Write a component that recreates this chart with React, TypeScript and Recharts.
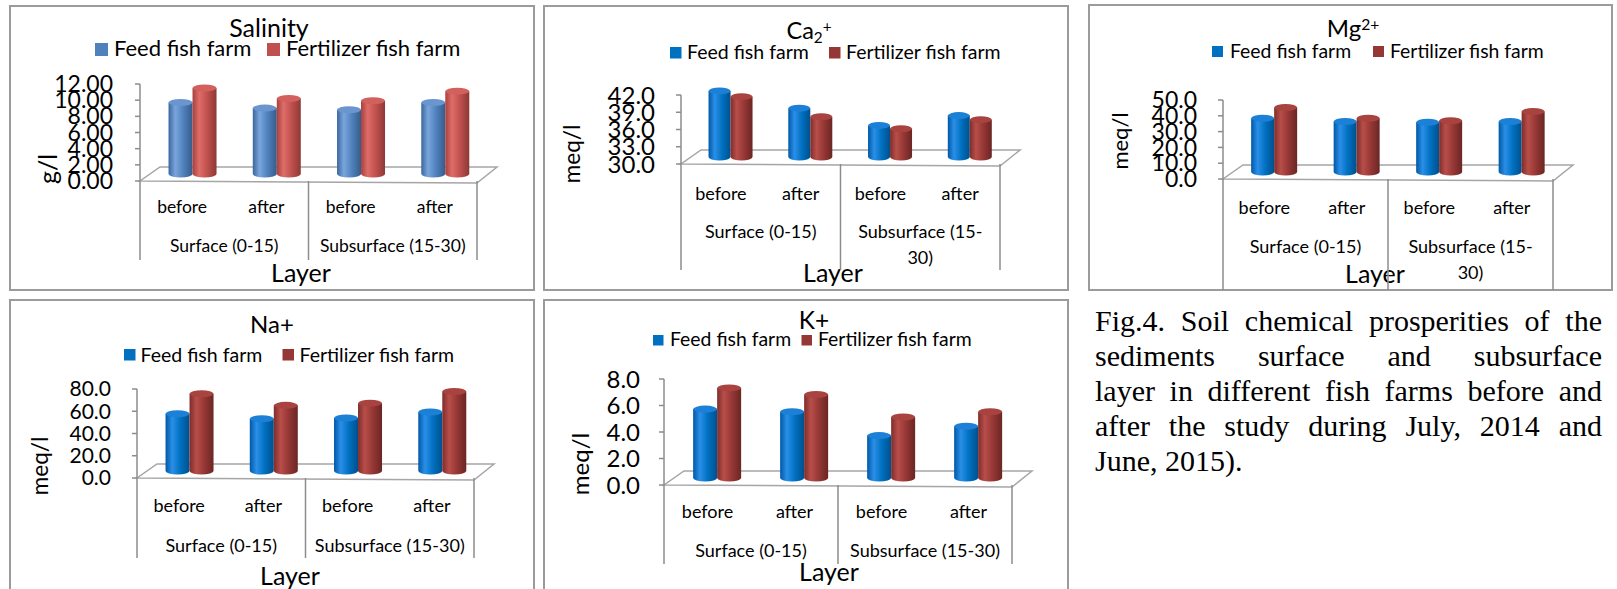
import React from 'react';
import { BarChart, Bar, XAxis, YAxis, Legend } from 'recharts';

// categories
const layers = ['before', 'after', 'before', 'after'];
const groups = ['Surface (0-15)', 'Subsurface (15-30)'];
const seriesNames = ['Feed fish farm', 'Fertilizer fish farm'];

// values
const salinityFeed = [8.85, 8.15, 7.95, 8.85];
const salinityFert = [10.65, 9.35, 9.05, 10.25];
const caFeed = [41.5, 38.5, 35.5, 37.2];
const caFert = [40.5, 37.0, 34.9, 36.5];
const mgFeed = [34.0, 32.0, 31.5, 32.0];
const mgFert = [40.8, 34.0, 32.4, 38.3];
const naFeed = [51.5, 47.0, 47.6, 53.0];
const naFert = [69.5, 59.0, 61.0, 71.5];
const kFeed = [5.2, 5.0, 3.2, 3.9];
const kFert = [6.8, 6.3, 4.6, 5.0];

// y ticks
const salinityTicks = [0, 2, 4, 6, 8, 10, 12];
const caTicks = [30, 33, 36, 39, 42];
const mgTicks = [0, 10, 20, 30, 40, 50];
const naTicks = [0, 20, 40, 60, 80];
const kTicks = [0, 2, 4, 6, 8];

const captionLines = [
  'Fig.4. Soil chemical prosperities of the',
  'sediments surface and subsurface',
  'layer in different fish farms before and',
  'after the study during July, 2014 and',
  'June, 2015).',
];

const FONT = 'Lato, "Open Sans", sans-serif';
const AXIS = '#8c8c8c';
const DX = 10; // bars sit half way into the 3d floor
const DY = 7;
const RY = 3.5;

const palettes: any = {
  office: {
    feed: { stops: ['#3A669E', '#7AA5DC', '#4F81BD', '#375B88'], top: '#6A95CF', legend: '#4F81BD' },
    fert: { stops: ['#A8403D', '#DE6D69', '#C0504D', '#8C3936'], top: '#D2605C', legend: '#C0504D' },
  },
  vivid: {
    feed: { stops: ['#0058A6', '#2A8FE8', '#0070C0', '#00508C'], top: '#1C80D6', legend: '#0070C0' },
    fert: { stops: ['#7E2D2B', '#B84E4A', '#953735', '#6A2624'], top: '#A8433F', legend: '#953735' },
  },
};

const toRows = (feed: number[], fert: number[]) =>
  layers.map((layer, i) => ({ layer, feed: feed[i], fert: fert[i] }));

const panels: any[] = [
  {
    key: 'sal', box: [10, 6, 524, 284], left: 140, right: 477, top: 84, bottom: 181,
    domain: [0, 12], ticks: salinityTicks, dec: 2, feed: salinityFeed, fert: salinityFert, pal: 'office',
    title: [{ t: 'Salinity' }], titleX: 269, titleY: 37, titleFs: 25,
    lg: { sq: [95, 267], tx: [114, 286], sqY: 43, size: 13, base: 56, fs: 22 },
    tickFs: 23, tickMargin: 22, ylabel: 'g/l', ylx: 47, yly: 169, ylFs: 25,
    catDy: 32, grpDy: 71, divLen: 79, catFs: 17.5, grpFs: 17.5, wrap: false,
    layerX: 301, layerY: 282, layerFs: 25,
  },
  {
    key: 'ca', box: [544, 6, 524, 284], left: 681, right: 1000, top: 95, bottom: 164,
    domain: [30, 42], ticks: caTicks, dec: 1, feed: caFeed, fert: caFert, pal: 'vivid',
    title: [{ t: 'Ca' }, { t: '2', sub: true }, { t: '+', sup: true }], titleX: 809, titleY: 39, titleFs: 23.5,
    lg: { sq: [670, 829], tx: [687, 846], sqY: 47, size: 11.5, base: 59, fs: 19.5 },
    tickFs: 24, tickMargin: 21, ylabel: 'meq/l', ylx: 571, yly: 154, ylFs: 22.5,
    catDy: 35.5, grpDy: 74, divLen: 106, catFs: 18, grpFs: 18, wrap: true,
    layerX: 833, layerY: 282, layerFs: 25,
  },
  {
    key: 'mg', box: [1089, 5, 523, 285], left: 1223, right: 1553, top: 100, bottom: 179,
    domain: [0, 50], ticks: mgTicks, dec: 1, feed: mgFeed, fert: mgFert, pal: 'vivid',
    title: [{ t: 'Mg' }, { t: '2+', sup: true }], titleX: 1353, titleY: 37, titleFs: 24,
    lg: { sq: [1212, 1373], tx: [1230, 1390], sqY: 46, size: 11, base: 57.5, fs: 19.4 },
    tickFs: 23, tickMargin: 21, ylabel: 'meq/l', ylx: 1119, yly: 141, ylFs: 22,
    catDy: 34.5, grpDy: 73.5, divLen: 111, catFs: 18, grpFs: 18, wrap: true,
    layerX: 1375, layerY: 283, layerFs: 25,
  },
  {
    key: 'na', box: [10, 300, 524, 300], left: 137, right: 474, top: 389, bottom: 478,
    domain: [0, 80], ticks: naTicks, dec: 1, feed: naFeed, fert: naFert, pal: 'vivid',
    title: [{ t: 'Na+' }], titleX: 272, titleY: 333, titleFs: 24,
    lg: { sq: [124, 282.5], tx: [140.5, 299.5], sqY: 349, size: 11.5, base: 361.5, fs: 19.5 },
    tickFs: 21, tickMargin: 21, ylabel: 'meq/l', ylx: 39, yly: 466, ylFs: 22.5,
    catDy: 34, grpDy: 73.6, divLen: 80, catFs: 18, grpFs: 18, wrap: false,
    layerX: 290, layerY: 585, layerFs: 25,
  },
  {
    key: 'k', box: [544, 300, 524, 300], left: 664, right: 1012, top: 379, bottom: 485,
    domain: [0, 8], ticks: kTicks, dec: 1, feed: kFeed, fert: kFert, pal: 'vivid',
    title: [{ t: 'K+' }], titleX: 814, titleY: 329, titleFs: 24.5,
    lg: { sq: [653, 801.5], tx: [670, 818], sqY: 335, size: 10.5, base: 346, fs: 19.4 },
    tickFs: 24, tickMargin: 19, ylabel: 'meq/l', ylx: 579, yly: 464, ylFs: 24,
    catDy: 33, grpDy: 72, divLen: 79, catFs: 18, grpFs: 18, wrap: false,
    layerX: 829, layerY: 581, layerFs: 25,
  },
];

const Cylinder = (props: any) => {
  const { x, y, width, height, grad, top } = props;
  if (width == null || height == null || isNaN(y)) return null;
  const xl = x + DX;
  const xr = x + DX + width;
  const yt = y - DY;
  const yb = y + height - DY;
  const rx = width / 2;
  return (
    <g>
      <path
        d={`M${xl},${yt} L${xl},${yb} A${rx},${RY} 0 0 0 ${xr},${yb} L${xr},${yt} Z`}
        fill={`url(#${grad})`}
      />
      <ellipse cx={xl + rx} cy={yt} rx={rx} ry={RY} fill={top} />
    </g>
  );
};

const renderTick = (p: any) => (props: any) => {
  const { x, y, index, payload } = props;
  const band = (p.right - p.left) / 4;
  const gx = x + band / 2;
  const sub = groups[1];
  return (
    <g>
      <text x={x} y={y + p.catDy} textAnchor="middle" fontSize={p.catFs} fontFamily={FONT} fill="#000">
        {payload.value}
      </text>
      {index % 2 === 0 && (
        <line x1={x - band / 2} y1={y} x2={x - band / 2} y2={y + p.divLen} stroke={AXIS} strokeWidth={1.5} />
      )}
      {index === 3 && (
        <line x1={x + band / 2} y1={y} x2={x + band / 2} y2={y + p.divLen} stroke={AXIS} strokeWidth={1.5} />
      )}
      {index === 0 && (
        <text x={gx} y={y + p.grpDy} textAnchor="middle" fontSize={p.grpFs} fontFamily={FONT} fill="#000">
          {groups[0]}
        </text>
      )}
      {index === 2 && !p.wrap && (
        <text x={gx} y={y + p.grpDy} textAnchor="middle" fontSize={p.grpFs} fontFamily={FONT} fill="#000">
          {sub}
        </text>
      )}
      {index === 2 && p.wrap && (
        <text textAnchor="middle" fontSize={p.grpFs} fontFamily={FONT} fill="#000">
          <tspan x={gx} y={y + p.grpDy}>{sub.slice(0, 15)}</tspan>
          <tspan x={gx} y={y + p.grpDy + 26}>{sub.slice(15)}</tspan>
        </text>
      )}
    </g>
  );
};

const LegendBox = ({ p }: any) => {
  const [bx, by, bw] = p.box;
  const pal = palettes[p.pal];
  const cols = [pal.feed.legend, pal.fert.legend];
  return (
    <svg width={bw} height={70} style={{ display: 'block', overflow: 'visible' }}>
      {seriesNames.map((name, i) => (
        <g key={name}>
          <rect x={p.lg.sq[i] - bx} y={p.lg.sqY - by} width={p.lg.size} height={p.lg.size} fill={cols[i]} />
          <text x={p.lg.tx[i] - bx} y={p.lg.base - by} fontSize={p.lg.fs} fontFamily={FONT} fill="#000">
            {name}
          </text>
        </g>
      ))}
    </svg>
  );
};

const PanelChart = ({ p }: any) => {
  const [bx, by, bw, bh] = p.box;
  const data = toRows(p.feed, p.fert);
  return (
    <div style={{ position: 'absolute', left: bx, top: by }}>
      <BarChart
        width={bw}
        height={bh}
        data={data}
        margin={{ top: p.top - by, right: bx + bw - p.right, bottom: 0, left: 0 }}
        barCategoryGap="22%"
        barGap={0}
      >
        <XAxis
          dataKey="layer"
          height={by + bh - p.bottom}
          axisLine={false}
          tickLine={false}
          tickSize={0}
          tickMargin={0}
          interval={0}
          tick={renderTick(p)}
        />
        <YAxis
          type="number"
          domain={p.domain}
          ticks={p.ticks}
          interval={0}
          width={p.left - bx}
          tickFormatter={(v: number) => v.toFixed(p.dec)}
          axisLine={{ stroke: AXIS, strokeWidth: 1.5 }}
          tickLine={{ stroke: AXIS, strokeWidth: 1.5 }}
          tickSize={5}
          tickMargin={p.tickMargin}
          tick={{ fontSize: p.tickFs, fill: '#000', fontFamily: FONT }}
        />
        <Legend
          verticalAlign="middle"
          align="center"
          layout="horizontal"
          wrapperStyle={{ position: 'absolute', left: 0, top: 0, width: bw, height: 70, margin: 0 }}
          content={() => <LegendBox p={p} />}
        />
        <Bar
          dataKey="feed"
          name={seriesNames[0]}
          fill={palettes[p.pal].feed.legend}
          isAnimationActive={false}
          shape={(s: any) => <Cylinder {...s} grad={`${p.pal}-feed`} top={palettes[p.pal].feed.top} />}
        />
        <Bar
          dataKey="fert"
          name={seriesNames[1]}
          fill={palettes[p.pal].fert.legend}
          isAnimationActive={false}
          shape={(s: any) => <Cylinder {...s} grad={`${p.pal}-fert`} top={palettes[p.pal].fert.top} />}
        />
      </BarChart>
    </div>
  );
};

const Backdrop = () => (
  <svg width={1617} height={589} style={{ position: 'absolute', left: 0, top: 0 }}>
    <defs>
      {Object.keys(palettes).map((pk) =>
        ['feed', 'fert'].map((s) => (
          <linearGradient key={`${pk}-${s}`} id={`${pk}-${s}`} x1="0" y1="0" x2="1" y2="0">
            <stop offset="0%" stopColor={palettes[pk][s].stops[0]} />
            <stop offset="28%" stopColor={palettes[pk][s].stops[1]} />
            <stop offset="62%" stopColor={palettes[pk][s].stops[2]} />
            <stop offset="100%" stopColor={palettes[pk][s].stops[3]} />
          </linearGradient>
        ))
      )}
    </defs>
    {panels.map((p) => {
      const [bx, by, bw, bh] = p.box;
      const L = p.left;
      const R = p.right;
      const B = p.bottom;
      return (
        <g key={p.key}>
          <rect x={bx} y={by} width={bw} height={bh} fill="#fff" stroke="#9b9b9b" strokeWidth={2} />
          <polygon
            points={`${L},${B} ${R},${B + 2} ${R + 20},${B - 14} ${L + 20},${B - 14}`}
            fill="#fff"
            stroke="#a6a6a6"
            strokeWidth={1.5}
          />
          <text x={p.titleX} y={p.titleY} textAnchor="middle" fontSize={p.titleFs} fontFamily={FONT} fill="#000">
            {p.title.map((t: any, i: number) => (
              <tspan
                key={i}
                baselineShift={t.sub ? '-25%' : t.sup ? '45%' : undefined}
                fontSize={t.sub || t.sup ? p.titleFs * 0.65 : undefined}
              >
                {t.t}
              </tspan>
            ))}
          </text>
          <text
            x={p.ylx}
            y={p.yly}
            transform={`rotate(-90 ${p.ylx} ${p.yly})`}
            textAnchor="middle"
            dominantBaseline="central"
            fontSize={p.ylFs}
            fontFamily={FONT}
            fill="#000"
          >
            {p.ylabel}
          </text>
          <text x={p.layerX} y={p.layerY} textAnchor="middle" fontSize={p.layerFs} fontFamily={FONT} fill="#000">
            Layer
          </text>
        </g>
      );
    })}
  </svg>
);

export default function App() {
  return (
    <div style={{ position: 'absolute', left: 0, top: 0, width: 1617, height: 589, overflow: 'hidden', background: '#fff' }}>
      <Backdrop />
      {panels.map((p) => (
        <PanelChart key={p.key} p={p} />
      ))}
      <div
        style={{
          position: 'absolute',
          left: 1095,
          top: 303,
          width: 507,
          fontFamily: '"Liberation Serif", "Times New Roman", serif',
          fontSize: 30,
          lineHeight: '35px',
          color: '#000',
        }}
      >
        {captionLines.map((line, i) => (
          <div
            key={i}
            style={{
              textAlign: 'justify',
              textAlignLast: i < captionLines.length - 1 ? 'justify' : 'left',
            }}
          >
            {line}
          </div>
        ))}
      </div>
    </div>
  );
}
